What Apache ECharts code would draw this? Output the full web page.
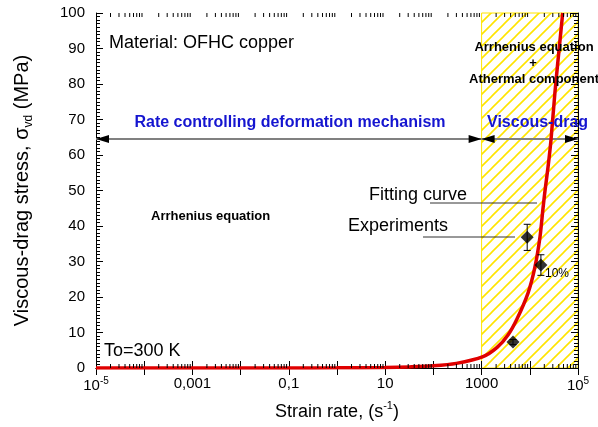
<!DOCTYPE html>
<html><head><meta charset="utf-8">
<script src="https://cdn.jsdelivr.net/npm/echarts@6/dist/echarts.min.js"></script>
<style>html,body{margin:0;padding:0;background:#fff}#c{width:598px;height:427px}</style>
</head><body><div id="c"></div>
<script>
// ---- data ----
const curveRate   = [1e-5, 1e-3, 0.1, 1, 10, 31.6, 100, 300, 1070, 2100, 3530, 5420, 9180, 12800, 16300, 18800, 20700, 23900, 27500, 33400, 42400, 48200];
const curveStress = [0, 0, 0.02, 0.05, 0.15, 0.3, 0.6, 1.3, 3.2, 5.8, 9.3, 13.8, 21.1, 28.5, 37, 45, 50, 56.6, 64.2, 78, 92.4, 100];
const expRate   = [4480, 8830, 17000];
const expStress = [7.3, 36.8, 29.0];
const expErrPct = 10;
const xDecades = [1e-5, 1e-4, 1e-3, 1e-2, 0.1, 1, 10, 100, 1000, 1e4, 1e5];
const xTickValues = [1e-5, 1e-3, 0.1, 10, 1000, 1e5];
const xTickLabels = ['{b|10}{sup|-5}', '0,001', '0,1', '10', '1000', '{b|10}{sup|5}'];
const yMin = 0, yMax = 100, yStep = 10;
const hatchRange = [1000, 1e5];
const arrowSpans = [[1e-5, 1000], [1000, 1e5]];
const arrowLevel = 64.5;

const FF = 'Liberation Sans, Arial, sans-serif';

// minor log ticks (axis decoration)
const minorX = [];
for (let k = -5; k < 5; k++) for (let m = 2; m <= 9; m++) minorX.push([m * Math.pow(10, k), 0]);

// hatch pattern
const pc = document.createElement('canvas');
pc.width = 12; pc.height = 12;
const g = pc.getContext('2d');
g.strokeStyle = '#ffe400'; g.lineWidth = 1.6;
g.beginPath();
g.moveTo(-1, 13); g.lineTo(13, -1);
g.moveTo(-1, 1); g.lineTo(1, -1);
g.moveTo(11, 13); g.lineTo(13, 11);
g.stroke();

const chart = echarts.init(document.getElementById('c'), null, {renderer: 'canvas'});

const xAxisBase = {
  type: 'log', logBase: 10, min: xDecades[0], max: xDecades[xDecades.length - 1],
  z: 3,
  axisLine: {show: true, lineStyle: {color: '#000', width: 1}},
  axisTick: {show: true, inside: true, length: 7, customValues: xDecades, lineStyle: {color: '#000'}},
  minorTick: {show: false},
  splitLine: {show: false}
};
const yAxisBase = {
  type: 'value', min: yMin, max: yMax, interval: yStep, z: 3,
  axisLine: {show: true, lineStyle: {color: '#000', width: 1}},
  axisTick: {show: true, inside: true, length: 7, lineStyle: {color: '#000'}},
  minorTick: {show: true, splitNumber: 10, length: 4, lineStyle: {color: '#000'}},
  splitLine: {show: false}, minorSplitLine: {show: false}
};

chart.setOption({
  animation: false,
  backgroundColor: '#fff',
  grid: {left: 96, right: 20, top: 13, bottom: 59, containLabel: false},
  xAxis: [
    Object.assign({}, xAxisBase, {
      position: 'bottom',
      name: '{n|Strain rate, (s}{sup|-1}{n|)}', nameLocation: 'middle', nameGap: 32,
      nameTextStyle: {color: '#000', fontFamily: FF, fontSize: 18,
        rich: {n: {fontSize: 18, fontFamily: FF, color: '#000', lineHeight: 24},
               sup: {fontSize: 11, fontFamily: FF, color: '#000', verticalAlign: 'top', lineHeight: 12}}},
      axisLabel: {show: true, margin: 8, color: '#000', fontFamily: FF, fontSize: 15,
        customValues: xTickValues,
        formatter: function (v) {
          const i = xTickValues.findIndex(t => Math.abs(Math.log10(t) - Math.log10(v)) < 1e-6);
          return i >= 0 ? xTickLabels[i] : '';
        },
        rich: {b: {fontSize: 15, fontFamily: FF, color: '#000', lineHeight: 20},
               sup: {fontSize: 10, fontFamily: FF, color: '#000', verticalAlign: 'top', lineHeight: 10}}}
    }),
    Object.assign({}, xAxisBase, {position: 'top', axisLabel: {show: false}})
  ],
  yAxis: [
    Object.assign({}, yAxisBase, {
      position: 'left',
      name: '{n|Viscous-drag stress, σ}{sub|vd}{n| (MPa)}', nameLocation: 'middle', nameGap: 61,
      nameTextStyle: {color: '#000', fontFamily: FF, fontSize: 20,
        rich: {n: {fontSize: 20, fontFamily: FF, color: '#000', lineHeight: 26},
               sub: {fontSize: 12, fontFamily: FF, color: '#000', verticalAlign: 'bottom', lineHeight: 13}}},
      axisLabel: {show: true, margin: 11, color: '#000', fontFamily: FF, fontSize: 15}
    }),
    Object.assign({}, yAxisBase, {position: 'right', axisLabel: {show: false}})
  ],
  series: [
    { // hatched region
      type: 'custom', z: 1, silent: true, clip: false,
      data: [[hatchRange[0], hatchRange[1]]],
      encode: {x: [0, 1]},
      renderItem: function (params, api) {
        const a = api.coord([api.value(0), yMax]);
        const b = api.coord([api.value(1), yMin]);
        return {type: 'rect', shape: {x: a[0], y: a[1], width: b[0] - a[0], height: b[1] - a[1]},
          style: {fill: {image: pc, repeat: 'repeat'}, stroke: '#ffe400', lineWidth: 1}};
      }
    },
    { // minor log ticks
      type: 'custom', z: 7, silent: true, clip: false,
      data: minorX, encode: {x: 0, y: 1},
      renderItem: function (params, api) {
        const v = api.value(0);
        const b = api.coord([v, yMin]);
        const t = api.coord([v, yMax]);
        return {type: 'group', children: [
          {type: 'line', shape: {x1: b[0], y1: b[1], x2: b[0], y2: b[1] - 4}, style: {stroke: '#000', lineWidth: 1}},
          {type: 'line', shape: {x1: t[0], y1: t[1], x2: t[0], y2: t[1] + 4}, style: {stroke: '#000', lineWidth: 1}}
        ]};
      }
    },
    { // double arrows
      type: 'custom', z: 5, silent: true, clip: false,
      data: arrowSpans.map(s => [s[0], s[1], arrowLevel]),
      encode: {x: [0, 1], y: 2},
      renderItem: function (params, api) {
        const p1 = api.coord([api.value(0), api.value(2)]);
        const p2 = api.coord([api.value(1), api.value(2)]);
        const L = 13, H = 4;
        return {type: 'group', children: [
          {type: 'line', shape: {x1: p1[0], y1: p1[1], x2: p2[0], y2: p2[1]}, style: {stroke: '#808080', lineWidth: 2}},
          {type: 'polygon', shape: {points: [[p1[0], p1[1]], [p1[0] + L, p1[1] - H], [p1[0] + L, p1[1] + H]]}, style: {fill: '#000'}},
          {type: 'polygon', shape: {points: [[p2[0], p2[1]], [p2[0] - L, p2[1] - H], [p2[0] - L, p2[1] + H]]}, style: {fill: '#000'}}
        ]};
      }
    },
    { // fitting curve
      type: 'line', z: 6, silent: true,
      data: curveRate.map((r, i) => [r, curveStress[i]]),
      showSymbol: false, smooth: 0.3,
      lineStyle: {color: '#e00000', width: 3.5}
    },
    { // error bars
      type: 'custom', z: 7, silent: true,
      data: expRate.map((r, i) => [r, expStress[i], expStress[i] * expErrPct / 100]),
      encode: {x: 0, y: 1},
      renderItem: function (params, api) {
        const x = api.value(0), y = api.value(1), e = api.value(2);
        const t = api.coord([x, y + e]);
        const b = api.coord([x, y - e]);
        const w = 3.5;
        return {type: 'group', children: [
          {type: 'line', shape: {x1: t[0], y1: t[1], x2: b[0], y2: b[1]}, style: {stroke: '#000', lineWidth: 1}},
          {type: 'line', shape: {x1: t[0] - w, y1: t[1], x2: t[0] + w, y2: t[1]}, style: {stroke: '#000', lineWidth: 1}},
          {type: 'line', shape: {x1: b[0] - w, y1: b[1], x2: b[0] + w, y2: b[1]}, style: {stroke: '#000', lineWidth: 1}}
        ]};
      }
    },
    { // experiments
      type: 'scatter', z: 8, silent: true,
      data: expRate.map((r, i) => [r, expStress[i]]),
      symbol: 'diamond', symbolSize: 13,
      itemStyle: {color: '#000'}
    }
  ],
  graphic: [
    {type: 'text', z: 10, style: {x: 109, y: 43, text: 'Material: OFHC copper', font: '18px ' + FF, fill: '#000', align: 'left', verticalAlign: 'middle'}},
    {type: 'text', z: 10, style: {x: 290, y: 123, text: 'Rate controlling deformation mechanism', font: 'bold 16px ' + FF, fill: '#1515d0', align: 'center', verticalAlign: 'middle'}},
    {type: 'text', z: 10, style: {x: 487, y: 123, text: 'Viscous-drag', font: 'bold 16px ' + FF, fill: '#1515d0', align: 'left', verticalAlign: 'middle'}},
    {type: 'text', z: 10, style: {x: 151, y: 216, text: 'Arrhenius equation', font: 'bold 13px ' + FF, fill: '#000', align: 'left', verticalAlign: 'middle'}},
    {type: 'text', z: 10, style: {x: 534, y: 47, text: 'Arrhenius equation', font: 'bold 13px ' + FF, fill: '#000', align: 'center', verticalAlign: 'middle'}},
    {type: 'text', z: 10, style: {x: 533, y: 63, text: '+', font: 'bold 13px ' + FF, fill: '#000', align: 'center', verticalAlign: 'middle'}},
    {type: 'text', z: 10, style: {x: 534, y: 79, text: 'Athermal component', font: 'bold 13px ' + FF, fill: '#000', align: 'center', verticalAlign: 'middle'}},
    {type: 'text', z: 10, style: {x: 369, y: 195, text: 'Fitting curve', font: '18px ' + FF, fill: '#000', align: 'left', verticalAlign: 'middle'}},
    {type: 'line', z: 10, shape: {x1: 430, y1: 203, x2: 537, y2: 203}, style: {stroke: '#333', lineWidth: 1}},
    {type: 'text', z: 10, style: {x: 348, y: 226, text: 'Experiments', font: '18px ' + FF, fill: '#000', align: 'left', verticalAlign: 'middle'}},
    {type: 'line', z: 10, shape: {x1: 423, y1: 237, x2: 515, y2: 237}, style: {stroke: '#333', lineWidth: 1}},
    {type: 'text', z: 10, style: {x: 545, y: 274, text: '10%', font: '12px ' + FF, fill: '#000', align: 'left', verticalAlign: 'middle'}},
    {type: 'text', z: 10, style: {x: 104, y: 351, text: 'To=300 K', font: '18px ' + FF, fill: '#000', align: 'left', verticalAlign: 'middle'}}
  ]
});
</script>
</body></html>
